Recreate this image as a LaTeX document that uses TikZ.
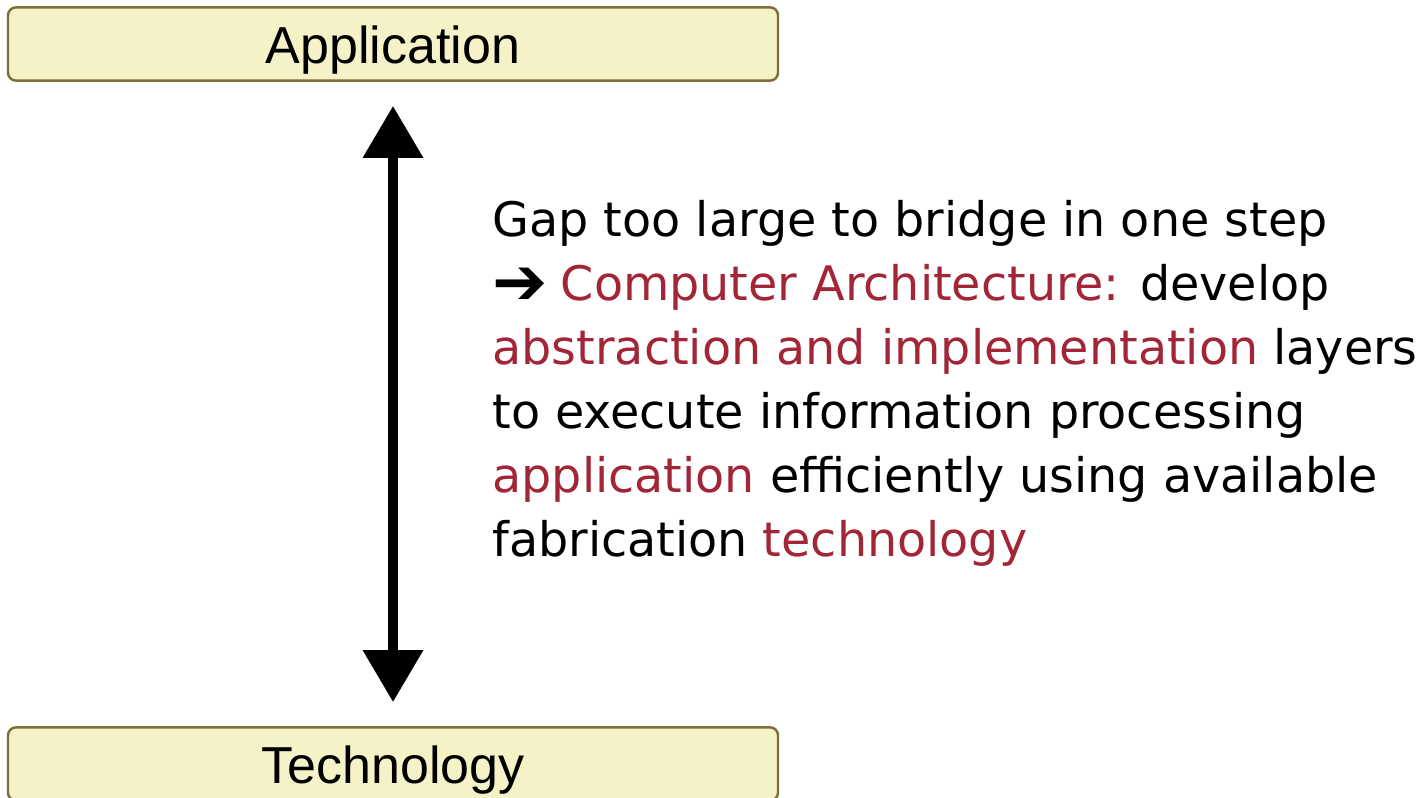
\documentclass[tikz,border=0pt]{standalone}
\usepackage{fontspec}
\setmainfont{DejaVu Sans}
\newfontfamily\boxfont{Liberation Sans}
\usetikzlibrary{arrows.meta, positioning}

\definecolor{layerfill}{RGB}{245,242,200}
\definecolor{layerline}{RGB}{125,108,60}
\definecolor{archred}{RGB}{163,38,56}

\tikzset{
	layer/.style={draw=layerline, fill=layerfill, line width=1.2pt, rounded corners=4pt, minimum width=385pt, minimum height=36pt, text height=24.5pt, text depth=5.5pt, font=\boxfont\fontsize{26}{30}\selectfont},
	gap/.style={{Triangle[width=29pt,length=26pt]}-{Triangle[width=29pt,length=26pt]}, line width=5pt, shorten >=12pt, shorten <=12pt},
	hl/.style={color=archred}
}

\begin{document}
\begin{tikzpicture}[x=0.5pt, y=0.5pt]
	\useasboundingbox (0,0) rectangle (1420,-798);

	\node[layer] (APP) at (393,-44) {Application};
	\node[layer] (TEC) at (393,-764) {Technology};

	\draw[gap] (APP.south) -- (TEC.north);

	\node[anchor=north west, align=left, inner sep=0pt, font=\fontsize{23.8}{32}\selectfont] (TXT) at (492,-200) {%
		Gap too large to bridge in one step\\
		\raisebox{-2pt}{\fontsize{33}{32}\selectfont ➔}\kern-1pt\ \textcolor{archred}{Computer Architecture:} develop\\
		\textcolor{archred}{abstraction and implementation} layers\\
		to execute information processing\\
		\textcolor{archred}{application} efficiently using available\\
		fabrication \textcolor{archred}{technology}};
\end{tikzpicture}
\end{document}
